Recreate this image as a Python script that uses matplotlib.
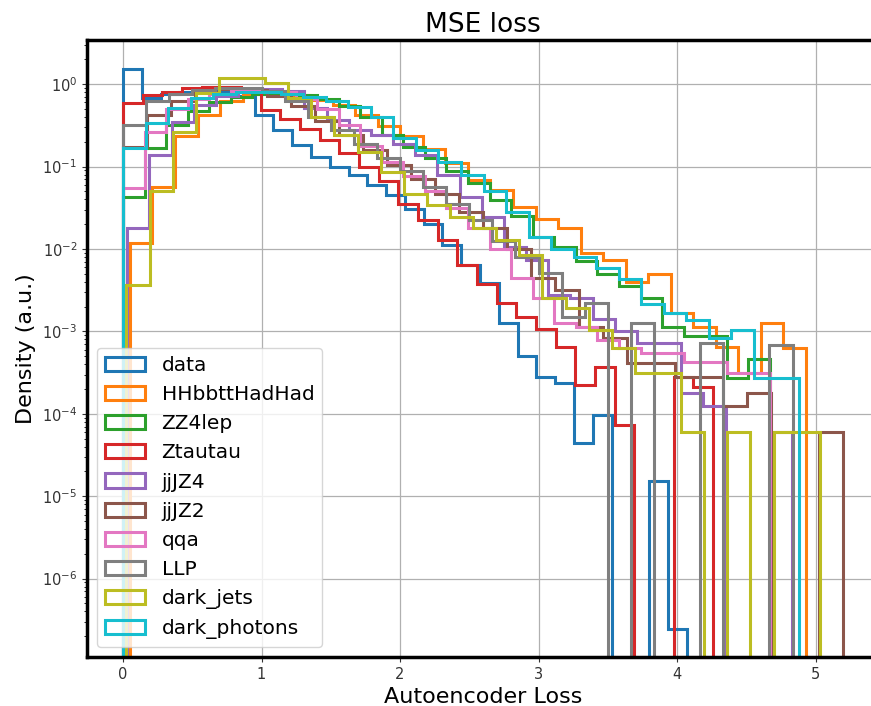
import numpy as np
import matplotlib
matplotlib.use('Agg')
import matplotlib.pyplot as plt

# each sample: 30 bins between its own min and max loss,
# bin heights as log10(density), None = empty bin
labels = ['data', 'HHbbttHadHad', 'ZZ4lep', 'Ztautau', 'jjJZ4',
          'jjJZ2', 'qqa', 'LLP', 'dark_jets', 'dark_photons']
ranges = [(0.0, 4.07), (0.05, 4.93), (0.0, 4.67), (0.0, 4.26), (0.03, 4.83),
          (0.0, 5.196), (0.0, 4.67), (0.0, 5.0), (0.025, 5.03), (0.0, 4.88)]

data_log = [0.19, -0.17, -0.12, -0.09, -0.08, -0.09, -0.14, -0.375, -0.556, -0.738,
            -0.88, -1.0, -1.1, -1.22, -1.34, -1.52, -1.7, -1.95, -2.19, -2.41,
            -2.9, -3.3, -3.55, -3.63, -4.35, -4.01, None, None, -4.82, -6.61]
hh_log = [-1.93, -1.25, -0.63, -0.38, -0.2, -0.12, -0.09, -0.13, -0.19, -0.25,
          -0.37, -0.51, -0.63, -0.79, -0.96, -1.16, -1.29, -1.49, -1.64, -1.75,
          -2.05, -2.13, -2.4, -2.3, -2.78, -2.95, -3.19, -3.5, -2.9, -3.2]
zz_log = [-1.37, -0.78, -0.5, -0.33, -0.22, -0.15, -0.12, -0.11, -0.13, -0.18,
          -0.26, -0.4, -0.62, -0.76, -0.9, -1.05, -1.2, -1.4, -1.6, -1.85,
          -1.98, -2.15, -2.3, -2.45, -2.6, -2.95, -3.05, -3.05, -3.57, -3.34]
ztt_log = [-0.23, -0.13, -0.09, -0.05, -0.03, -0.03, -0.06, -0.31, -0.42, -0.54,
           -0.68, -0.83, -1.0, -1.17, -1.46, -1.65, -1.89, -2.19, -2.42, -2.66,
           -2.82, -2.97, -3.19, -3.65, -3.43, -4.14, None, None, -3.55, -3.67]
jz4_log = [-1.75, -0.86, -0.455, -0.25, -0.14, -0.08, -0.06, -0.08, -0.29, -0.43,
           -0.55, -0.62, -0.72, -0.86, -1.1, -1.37, -1.61, -1.97, -2.13, -2.56,
           -2.6, -2.85, -3.0, -3.14, -3.14, -3.75, -3.91, None, None, -4.22]
jz2_log = [-0.76, -0.38, -0.2, -0.1, -0.06, -0.07, -0.14, -0.27, -0.45, -0.62,
           -0.8, -0.98, -1.15, -1.33, -1.55, -1.75, -2.0, -2.35, -2.5, -2.95,
           -3.08, -3.38, -3.38, -3.55, -3.55, -3.91, -3.75, None, None, -4.22]
qqa_log = [-1.26, -0.58, -0.3, -0.18, -0.12, -0.08, -0.08, -0.1, -0.18, -0.3,
           -0.5, -0.75, -0.95, -1.12, -1.3, -1.5, -1.75, -2.0, -2.35, -2.6,
           -2.9, -2.95, -3.1, -3.2, -3.26, -3.26, -3.37, -3.37, -3.5, -3.5]
llp_log = [-0.5, -0.21, -0.12, -0.07, -0.05, -0.05, -0.08, -0.2, -0.4, -0.55,
           -0.72, -0.9, -1.05, -1.25, -1.45, -1.65, -1.9, -2.1, -2.29, -2.83,
           -2.66, None, -2.9, None, None, -3.14, None, None, -3.17, None]
djets_log = [-2.44, -1.3, -0.58, -0.11, 0.08, 0.08, 0.01, -0.17, -0.4, -0.62,
             -0.82, -1.06, -1.33, -1.47, -1.61, -1.75, -1.89, -2.07, -2.6, -2.72,
             -2.98, -3.2, -3.5, -3.5, -4.22, None, -4.22, None, -4.22, -4.22]
dphot_log = [-0.78, -0.47, -0.29, -0.17, -0.12, -0.1, -0.1, -0.12, -0.15, -0.2,
             -0.28, -0.4, -0.65, -0.8, -0.95, -1.1, -1.3, -1.55, -1.85, -2.0,
             -2.1, -2.23, -2.37, -2.67, -2.78, -2.86, -3.08, -2.98, -3.57, -3.57]

all_logs = [data_log, hh_log, zz_log, ztt_log, jz4_log,
            jz2_log, qqa_log, llp_log, djets_log, dphot_log]

fig = plt.figure(figsize=(8.71, 7.06), dpi=100)
ax = fig.add_axes([0.0999, 0.0694, 0.909, 0.874])

for name, (lo, hi), logs in zip(labels, ranges, all_logs):
    edges = np.linspace(lo, hi, len(logs) + 1)
    dens = np.array([0.0 if v is None else 10 ** v for v in logs])
    centers = 0.5 * (edges[:-1] + edges[1:])
    ax.hist(centers, bins=edges, weights=dens, histtype='step',
            linewidth=2.2, label=name, log=True)

ax.set_xlim(-0.26, 5.456)
ax.set_ylim(1.12e-7, 3.44)
ax.grid(True, color='#b0b0b0', linewidth=0.9)
ax.set_axisbelow(True)
for s in ax.spines.values():
    s.set_linewidth(2.5)
    s.set_color('black')
ax.tick_params(labelsize=10.5, colors='#333333')

ax.set_title('MSE loss', fontsize=19)
ax.set_xlabel('Autoencoder Loss', fontsize=16)
ax.set_ylabel('Density (a.u.)', fontsize=16)
ax.legend(loc='lower left', fontsize=14.5)

plt.savefig('out.png')
